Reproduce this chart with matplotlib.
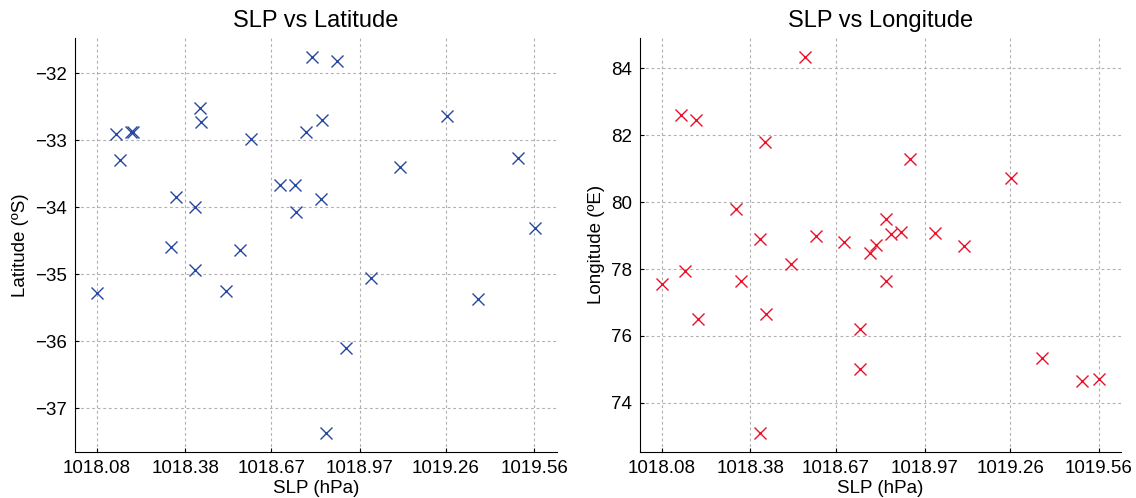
import matplotlib
matplotlib.use("Agg")
import matplotlib.pyplot as plt

plt.rcParams["font.family"] = ["Liberation Sans", "DejaVu Sans"]

BLUE = "#2648a0"
RED = "#e8102a"

# station values
slp = [1018.081, 1018.147, 1018.159, 1018.196, 1018.203, 1018.331, 1018.348,
       1018.412, 1018.412, 1018.429, 1018.432, 1018.517, 1018.564, 1018.601,
       1018.699, 1018.750, 1018.753, 1018.787, 1018.807, 1018.841, 1018.838,
       1018.855, 1018.892, 1018.922, 1019.007, 1019.105, 1019.263, 1019.368,
       1019.503, 1019.561]
lat = [-35.28, -32.91, -33.30, -32.87, -32.88, -34.60, -33.85, -34.00, -34.93,
       -32.51, -32.73, -35.25, -34.64, -32.98, -33.67, -33.67, -34.07, -32.87,
       -31.75, -32.70, -33.88, -37.37, -31.82, -36.10, -35.06, -33.40, -32.63,
       -35.37, -33.27, -34.31]
lon = [77.55, 82.60, 77.93, 82.45, 76.50, 79.80, 77.65, 78.90, 73.10, 81.80,
       76.65, 78.15, 84.35, 78.98, 78.80, 76.22, 75.00, 78.48, 78.72, 79.50,
       77.63, 79.05, 79.10, 81.28, 79.07, 78.68, 80.73, 75.33, 74.65, 74.70]

slp_ticks = [1018.08, 1018.38, 1018.67, 1018.97, 1019.26, 1019.56]
slp_labels = ["1018.08", "1018.38", "1018.67", "1018.97", "1019.26", "1019.56"]
lat_ticks = [-37, -36, -35, -34, -33, -32]
lon_ticks = [74, 76, 78, 80, 82, 84]

fig = plt.figure(figsize=(11.36, 4.98), dpi=100)
ax1 = fig.add_axes([0.066, 0.093, 0.424, 0.831])
ax2 = fig.add_axes([0.5634, 0.093, 0.4234, 0.831])


def style(ax):
    ax.spines["top"].set_visible(False)
    ax.spines["right"].set_visible(False)
    ax.grid(True, color="#b0b0b0", linestyle=(0, (2.5, 2.5)), linewidth=0.8)
    ax.set_axisbelow(True)
    ax.tick_params(direction="in", length=3, labelsize=13.5, pad=6)
    ax.set_xticks(slp_ticks)
    ax.set_xticklabels(slp_labels)
    ax.set_xlabel("SLP (hPa)", fontsize=13.5, labelpad=2)


ax1.plot(slp, lat, "x", color=BLUE, markersize=8.5, markeredgewidth=1.0)
style(ax1)
ax1.set_yticks(lat_ticks)
ax1.set_ylabel("Latitude (ºS)", fontsize=13.5)
ax1.set_title("SLP vs Latitude", fontsize=17, pad=8)

ax2.plot(slp, lon, "x", color=RED, markersize=8.5, markeredgewidth=1.0)
style(ax2)
ax2.set_yticks(lon_ticks)
ax2.set_ylabel("Longitude (ºE)", fontsize=13.5)
ax2.set_title("SLP vs Longitude", fontsize=17, pad=8)

fig.savefig("out.png", dpi=100)
